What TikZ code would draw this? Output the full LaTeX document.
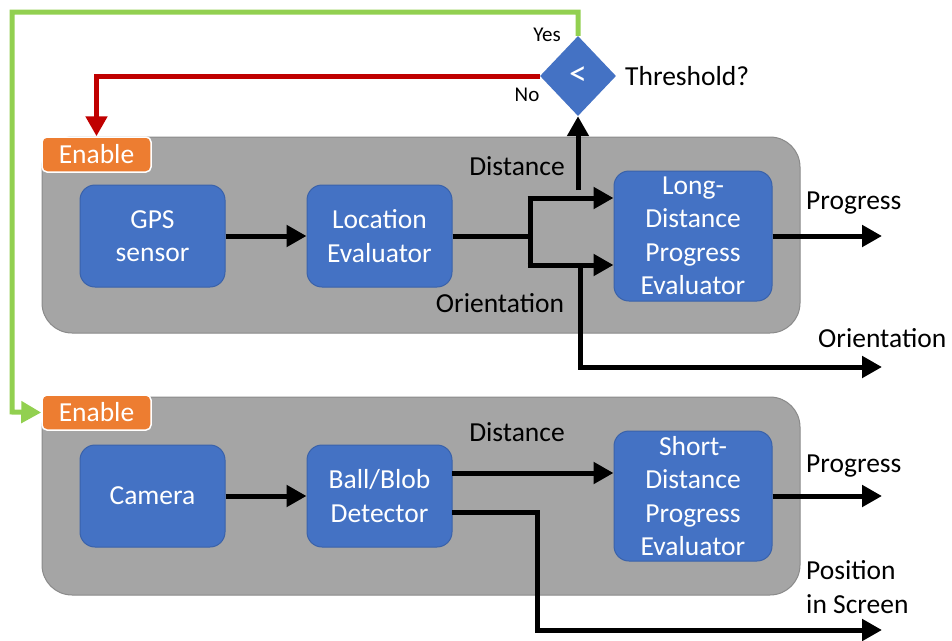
\documentclass[tikz,border=0pt]{standalone}
\usepackage{fontspec}
\setmainfont{Carlito}
\usetikzlibrary{arrows.meta,shapes.geometric}

\definecolor{blueF}{HTML}{4472C4}
\definecolor{blueE}{HTML}{3A62AA}
\definecolor{grayF}{HTML}{A5A5A5}
\definecolor{grayE}{HTML}{8A8A8A}
\definecolor{orangeF}{HTML}{ED7D31}
\definecolor{yesG}{HTML}{92D050}
\definecolor{noR}{HTML}{C00000}

\begin{document}
\begin{tikzpicture}[x=1pt,y=-1pt,
  txt/.style={font=\fontsize{27.5}{33.5}\selectfont},
  block/.style={txt, draw=blueE, line width=1pt, fill=blueF, rounded corners=15pt,
    text=white, align=center, inner sep=0pt},
  smallblk/.style={block, minimum width=145pt, minimum height=102pt},
  bigblk/.style={block, minimum width=158pt, minimum height=130pt},
  panel/.style={draw=grayE, fill=grayF, rounded corners=30pt, line width=1pt},
  enable/.style={txt, draw=white, line width=1.5pt, fill=orangeF, rounded corners=5pt,
    text=white, minimum width=109pt, minimum height=35pt, inner sep=0pt},
  tip/.style={-{Triangle[length=20pt,width=21pt]}},
  wire/.style={line width=5pt},
  flow/.style={wire, tip},
  lbl/.style={txt, inner sep=0pt, text=black}
]
\useasboundingbox (0,0) rectangle (952,640);

% panels
\draw[panel] (42,137) rectangle (800,333);
\draw[panel] (42,397) rectangle (800,595);

% enable tags
\node[enable] (en1) at (96.5,154.5) {Enable};
\node[enable] (en2) at (96.5,412.5) {Enable};

% upper chain
\node[smallblk] (gps) at (152.5,236) {GPS\\sensor};
\node[smallblk] (loc) at (379.5,236) {Location\\Evaluator};
\node[bigblk] (ldpe) at (693,236) {Long-\\Distance\\Progress\\Evaluator};

% lower chain
\node[smallblk] (cam) at (152.5,496) {Camera};
\node[smallblk] (blob) at (379.5,496) {Ball/Blob\\Detector};
\node[bigblk] (sdpe) at (693,496) {Short-\\Distance\\Progress\\Evaluator};

% threshold decision
\node[diamond, fill=blueF, minimum width=76pt, minimum height=80pt, inner sep=0pt,
  text=white, font=\fontsize{36}{40}\selectfont] (thr) at (578,76) {<};
\node[lbl, anchor=west] (thrlbl) at (625,76) {Threshold?};
\node[lbl] (yes) at (547,35) {\fontsize{21}{25}\selectfont Yes};
\node[lbl] (no) at (527,95) {\fontsize{21}{25}\selectfont No};

% feedback loops
\draw[yesG, flow] (thr.north) |- (12,12) -- (12,412) -- (en2.west);
\draw[noR, flow] (thr.west) -| (en1.north);

% upper connections
\coordinate (j) at (530,236);
\coordinate (jt) at (530,198);
\coordinate (jb) at (530,265);
\coordinate (dst) at (578,190);
\coordinate (ob) at (580,265);
\coordinate (oc) at (580,367);
\coordinate (oout) at (882,367);
\coordinate (pout1) at (882,236);

\draw[flow] (gps) -- (loc);
\draw[wire] (loc.east) -- (j);
\draw[wire] (jt) -- (jb);
\draw[flow] ([xshift=-2.5pt]jt) -- (jt -| ldpe.west);
\draw[flow] ([xshift=-2.5pt]jb) -- (jb -| ldpe.west);
\draw[flow] (dst) -- (thr.south);
\draw[flow] (ob) -- (oc) -- (oout);
\draw[flow] (ldpe.east) -- (pout1);

\node[lbl] (dlbl1) at (517,166) {Distance};
\node[lbl] (olbl1) at (500,303) {Orientation};
\node[lbl, anchor=west] (plbl1) at (806,203) {Progress};
\node[lbl, anchor=west] (olbl2) at (818,338) {Orientation};

% lower connections
\coordinate (bd) at (452,473);
\coordinate (bp) at (452,512);
\coordinate (bc) at (537,512);
\coordinate (bb) at (537,630);
\coordinate (posout) at (882,630);
\coordinate (pout2) at (882,496);

\draw[flow] (cam) -- (blob);
\draw[flow] (bd) -- (bd -| sdpe.west);
\draw[flow] (bp) -- (bc) -- (bb) -- (posout);
\draw[flow] (sdpe.east) -- (pout2);

\node[lbl] (dlbl2) at (517,432) {Distance};
\node[lbl, anchor=west] (plbl2) at (806,466) {Progress};
\node[lbl, anchor=west, align=left] (poslbl) at (806,587) {Position\\in Screen};
\end{tikzpicture}
\end{document}
